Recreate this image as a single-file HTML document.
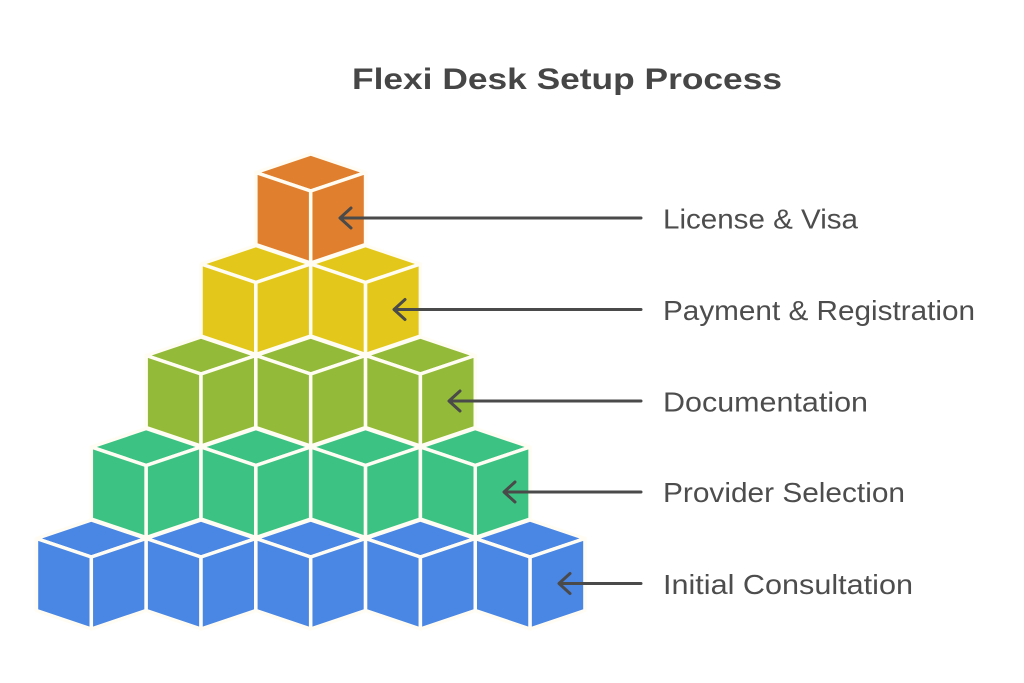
<!DOCTYPE html>
<html>
<head>
<meta charset="utf-8">
<style>
  html,body{margin:0;padding:0;background:#ffffff;}
  body{width:1024px;height:683px;overflow:hidden;}
  svg{display:block;}
  .lbl{font-family:"Liberation Sans",Arial,sans-serif;font-size:28px;fill:#4d4d4d;}
  .ttl{font-family:"Liberation Sans",Arial,sans-serif;font-size:30px;font-weight:bold;fill:#464646;}
</style>
</head>
<body>
<svg width="1024" height="683" viewBox="0 0 1024 683" xmlns="http://www.w3.org/2000/svg">
  <defs>
    <g id="c" stroke="#fffdf3" stroke-width="3.5" stroke-linejoin="round">
      <polygon points="0,0 54.85,18.5 0,37 -54.85,18.5"/>
      <polygon points="-54.85,18.5 0,37 0,109 -54.85,90.5"/>
      <polygon points="0,37 54.85,18.5 54.85,90.5 0,109"/>
    </g>
  </defs>

  <text class="ttl" x="352" y="89" textLength="430" lengthAdjust="spacingAndGlyphs">Flexi Desk Setup Process</text>

  <!-- Row 0 -->
  <use href="#c" x="310.7" y="154" fill="#E0802F"/>
  <!-- Row 1 -->
  <use href="#c" x="255.85" y="245.5" fill="#E3C81B"/>
  <use href="#c" x="365.55" y="245.5" fill="#E3C81B"/>
  <!-- Row 2 -->
  <use href="#c" x="201" y="337" fill="#93BA38"/>
  <use href="#c" x="310.7" y="337" fill="#93BA38"/>
  <use href="#c" x="420.4" y="337" fill="#93BA38"/>
  <!-- Row 3 -->
  <use href="#c" x="146.15" y="428.5" fill="#3CC383"/>
  <use href="#c" x="255.85" y="428.5" fill="#3CC383"/>
  <use href="#c" x="365.55" y="428.5" fill="#3CC383"/>
  <use href="#c" x="475.25" y="428.5" fill="#3CC383"/>
  <!-- Row 4 -->
  <use href="#c" x="91.3" y="520" fill="#4A86E3"/>
  <use href="#c" x="201" y="520" fill="#4A86E3"/>
  <use href="#c" x="310.7" y="520" fill="#4A86E3"/>
  <use href="#c" x="420.4" y="520" fill="#4A86E3"/>
  <use href="#c" x="530.1" y="520" fill="#4A86E3"/>

  <!-- Arrows -->
  <g stroke="#4a4a4a" stroke-width="3" fill="none" stroke-linecap="round" stroke-linejoin="round">
    <line x1="341" y1="218" x2="641" y2="218"/>
    <polyline points="351,208 340,218 351,228"/>
    <line x1="395" y1="309.5" x2="641" y2="309.5"/>
    <polyline points="405,299.5 394,309.5 405,319.5"/>
    <line x1="450" y1="401" x2="641" y2="401"/>
    <polyline points="460,391 449,401 460,411"/>
    <line x1="505" y1="492" x2="641" y2="492"/>
    <polyline points="515,482 504,492 515,502"/>
    <line x1="560" y1="583.5" x2="641" y2="583.5"/>
    <polyline points="570,573.5 559,583.5 570,593.5"/>
  </g>

  <!-- Labels -->
  <text class="lbl" x="663" y="228.5" textLength="195" lengthAdjust="spacingAndGlyphs">License &amp; Visa</text>
  <text class="lbl" x="663" y="320" textLength="312" lengthAdjust="spacingAndGlyphs">Payment &amp; Registration</text>
  <text class="lbl" x="663" y="411.5" textLength="205" lengthAdjust="spacingAndGlyphs">Documentation</text>
  <text class="lbl" x="663" y="502" textLength="242" lengthAdjust="spacingAndGlyphs">Provider Selection</text>
  <text class="lbl" x="663" y="594" textLength="250" lengthAdjust="spacingAndGlyphs">Initial Consultation</text>
</svg>
</body>
</html>
